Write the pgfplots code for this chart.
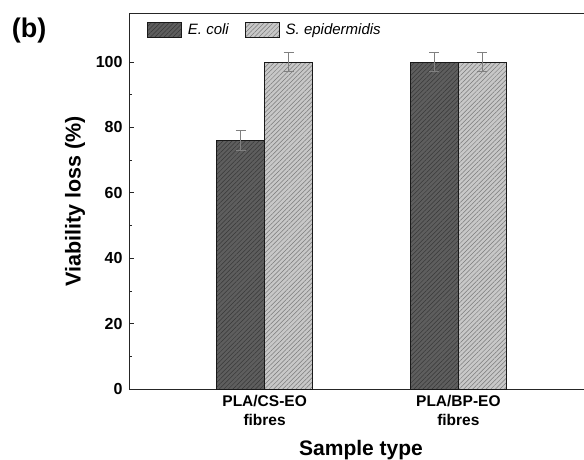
\documentclass[border=0pt]{standalone}
\usepackage{fontspec}
\setmainfont{Liberation Sans}
\usepackage{pgfplots}
\pgfplotsset{compat=1.18}
\usetikzlibrary{patterns.meta}

\definecolor{darkfill}{HTML}{5E5E5E}
\definecolor{darkline}{HTML}{383838}
\definecolor{lightfill}{HTML}{C8C8C8}
\definecolor{lightline}{HTML}{7A7A7A}
\definecolor{errcol}{HTML}{808080}

\begin{document}
\begin{tikzpicture}
\begin{axis}[
    at={(129pt,70pt)}, anchor=south west,
    scale only axis,
    width=465pt, height=375pt,
    axis line style={line width=1pt, black!85},
    xmin=0.3, xmax=2.7,
    ymin=0, ymax=114.7,
    ybar=0pt, bar width=48pt,
    xtick={1,2},
    xticklabels={PLA/CS-EO\\fibres, PLA/BP-EO\\fibres},
    xticklabel style={font=\fontsize{15.5}{19}\selectfont\bfseries, align=center, yshift=-3pt},
    x tick style={draw=none},
    ytick={0,20,...,100},
    minor y tick num=1,
    ytick pos=left,
    tick align=inside,
    major tick length=5pt, minor tick length=3pt,
    y tick style={line width=0.8pt, black!85},
    yticklabel style={font=\fontsize{16}{18}\selectfont\bfseries, xshift=-3pt},
    /pgf/number format/assume math mode=true,
    ylabel={Viability loss (\%)},
    ylabel style={font=\fontsize{21.5}{24}\selectfont\bfseries, anchor=center, at={(axis description cs:-0.116,0.5)}},
    xlabel={Sample type},
    xlabel style={font=\fontsize{21}{24}\selectfont\bfseries, anchor=center, at={(axis description cs:0.499,-0.163)}},
    legend columns=2,
    legend style={draw=none, fill=none, at={(axis description cs:0.032,0.985)}, anchor=north west,
        font=\fontsize{15}{17}\selectfont\itshape, column sep=4pt,
        /tikz/every even column/.append style={column sep=14pt}},
    legend image code/.code={\draw[#1] (0pt,-7pt) rectangle (34pt,8pt);},
    error bars/y dir=both, error bars/y explicit,
    error bars/error bar style={errcol, line width=0.8pt},
    error bars/error mark options={rotate=90, mark size=5pt, errcol, line width=0.8pt},
    clip=false,
]
\addplot[draw=black!90, line width=0.9pt, fill=darkfill,
    postaction={pattern={Lines[angle=45, distance=3.2pt, line width=0.5pt]}, pattern color=darkline}]
    coordinates {(1,76) +- (0,3) (2,100) +- (0,3)};
\addplot[draw=black!90, line width=0.9pt, fill=lightfill,
    postaction={pattern={Lines[angle=45, distance=3.2pt, line width=0.5pt]}, pattern color=lightline}]
    coordinates {(1,100) +- (0,3) (2,100) +- (0,3)};
\legend{E. coli, S. epidermidis}
\end{axis}
\node[font=\fontsize{27}{29}\selectfont\bfseries, anchor=center] at (29pt,428pt) {(b)};
\pgfresetboundingbox
\path (0,0) rectangle (584pt,459pt);
\end{tikzpicture}
\end{document}
